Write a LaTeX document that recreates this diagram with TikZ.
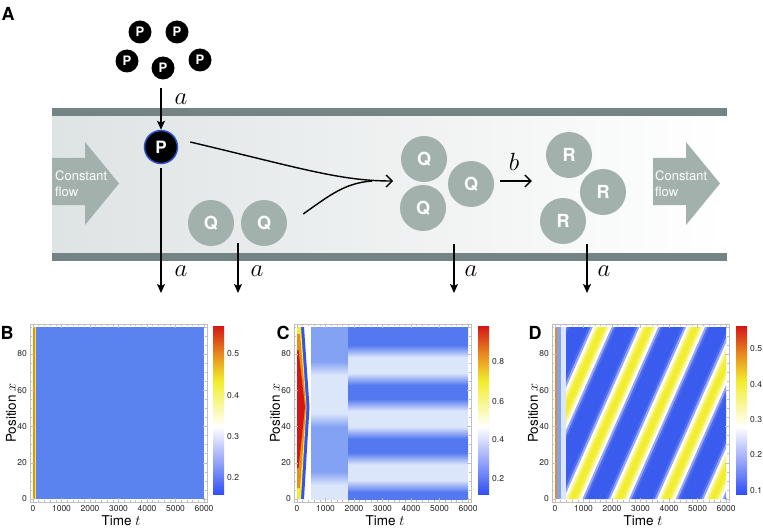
\documentclass[tikz,border=0pt]{standalone}
\usepackage{fontspec}
\setsansfont{TeX Gyre Heros}
\usetikzlibrary{arrows.meta, positioning, calc}

\definecolor{wallgray}{RGB}{116,132,132}
\definecolor{flowgray}{RGB}{163,177,173}
\definecolor{changray}{RGB}{222,227,227}
\definecolor{pblue}{RGB}{45,85,205}
\definecolor{cbblue}{RGB}{50,80,245}
\definecolor{cbyellow}{RGB}{242,238,45}
\definecolor{cborange}{RGB}{232,140,30}
\definecolor{cbred}{RGB}{212,22,22}
\definecolor{bgblue}{RGB}{91,131,240}
\definecolor{bandblue}{RGB}{84,120,240}
\definecolor{bandlight}{RGB}{220,230,251}
\definecolor{bandmid}{RGB}{132,162,244}
\definecolor{stripeblue}{RGB}{58,92,238}

% colour maps
\pgfdeclareverticalshading{cbar}{100bp}{color(0bp)=(cbblue); color(25bp)=(cbblue);
  color(45bp)=(white); color(58.5bp)=(cbyellow); color(66.5bp)=(cborange);
  color(75bp)=(cbred); color(100bp)=(cbred)}
\pgfdeclareverticalshading{cbands}{100bp}{color(0bp)=(bandblue); color(27bp)=(bandblue);
  color(30.5bp)=(bandlight); color(35bp)=(bandlight); color(38.5bp)=(bandblue);
  color(42.5bp)=(bandblue); color(46bp)=(bandlight); color(50.6bp)=(bandlight);
  color(54.1bp)=(bandblue); color(58.1bp)=(bandblue); color(61.6bp)=(bandlight);
  color(66.2bp)=(bandlight); color(69.7bp)=(bandblue); color(100bp)=(bandblue)}
\pgfdeclareverticalshading{cmid}{100bp}{color(0bp)=(bandlight); color(29bp)=(bandlight);
  color(33bp)=(bandmid); color(46bp)=(bandmid); color(50bp)=(bandlight);
  color(61bp)=(bandlight); color(65bp)=(bandmid); color(100bp)=(bandmid)}

\begin{document}
\begin{tikzpicture}[x=1pt, y=-1pt,
  pdot/.style={circle, fill=black, minimum size=23pt, inner sep=0pt, text=white,
    font=\sffamily\bfseries\fontsize{13}{13}\selectfont},
  pbig/.style={circle, fill=black, draw=pblue, line width=1.5pt, minimum size=33pt,
    inner sep=0pt, text=white, font=\sffamily\bfseries\fontsize{17}{17}\selectfont},
  mol/.style={circle, fill=flowgray, minimum size=46pt, inner sep=0pt, text=white,
    font=\sffamily\bfseries\fontsize{18}{18}\selectfont},
  arr/.style={-{Stealth[length=9pt, width=8pt, inset=2pt]}, line width=1.4pt},
  oarr/.style={-{Straight Barb[length=6pt, width=12pt]}, line width=1.4pt},
  rate/.style={font=\fontsize{24.88}{25}\selectfont, inner sep=0pt},
  flowtxt/.style={text=white, align=left, inner sep=0pt,
    font=\sffamily\fontsize{13}{16}\selectfont},
  plabel/.style={font=\sffamily\bfseries\fontsize{18}{18}\selectfont, inner sep=0pt},
  ticklbl/.style={font=\sffamily\fontsize{8.5}{9}\selectfont, inner sep=0pt, text=black!85},
  axlbl/.style={font=\sffamily\fontsize{13.5}{13.5}\selectfont, inner sep=0pt},
  framegray/.style={draw=black!25, line width=0.5pt}]
\useasboundingbox[fill=white] (0,0) rectangle (763,532);

\node[plabel] (labA) at (8,14) {A};

% channel
\shade[left color=changray, right color=white] (52,116) rectangle (727,253);
\fill[wallgray] (52,108) rectangle (727,116);
\fill[wallgray] (52,253) rectangle (727,261);

% constant flow arrows
\fill[flowgray] (52,158) -- (85,158) -- (85,142) -- (119,183.5) -- (85,225) -- (85,205) -- (52,205) -- cycle;
\fill[flowgray] (653,158) -- (686,158) -- (686,142) -- (720,183.5) -- (686,225) -- (686,205) -- (653,205) -- cycle;
\node[flowtxt, anchor=west] (flowin) at (55,184) {Constant\\flow};
\node[flowtxt, anchor=west] (flowout) at (655,184) {Constant\\flow};

% particles
\node[pdot] (p1) at (140,32) {P};
\node[pdot] (p2) at (177,32) {P};
\node[pdot] (p3) at (127,61) {P};
\node[pdot] (p4) at (163,68) {P};
\node[pdot] (p5) at (200,60) {P};
\node[pbig] (pin) at (161,147) {P};
\node[mol] (q1) at (211,223) {Q};
\node[mol] (q2) at (264,223) {Q};
\node[mol] (q3) at (424,159) {Q};
\node[mol] (q4) at (423,208) {Q};
\node[mol] (q5) at (471,184) {Q};
\node[mol] (r1) at (569,155) {R};
\node[mol] (r2) at (603,192) {R};
\node[mol] (r3) at (563,221) {R};

% reactions
\coordinate (qin) at (393,181);
\coordinate (qjoin) at (372,181);
\draw[arr, shorten <=8pt] (pin |- p4.south) -- (pin);
\draw[oarr] ([shift={(12,-5)}]pin.east) .. controls (300,168) and (340,181) .. (qin);
\draw[line width=1.4pt] ([shift={(16,-9)}]q2.east) .. controls (330,195) and (345,183) .. (qjoin);
\draw[oarr, shorten <=6pt, shorten >=14pt] (q5.east |- qin) -- (r1.west |- qin);

% outflow
\coordinate (pout) at (161,293);
\coordinate (qsrc) at (238,243);
\coordinate (qout) at (238,293);
\coordinate (qcsrc) at (454,244);
\coordinate (qcout) at (454,293);
\coordinate (rsrc) at (587,244);
\coordinate (rout) at (587,293);
\draw[arr, shorten <=4pt] (pin) -- (pout);
\draw[arr] (qsrc) -- (qout);
\draw[arr] (qcsrc) -- (qcout);
\draw[arr] (rsrc) -- (rout);

\node[rate] (ain) at (181,99) {$a$};
\node[rate] (aP) at (181,271) {$a$};
\node[rate] (aQ) at (257,271) {$a$};
\node[rate] (aQc) at (471,271) {$a$};
\node[rate] (aR) at (604,271) {$a$};
\node[rate] (rb) at (514,162) {$b$};

% panel B
\fill[bgblue] (33,327) rectangle (204,499);
\fill[cborange] (33,327) rectangle (34.5,499);
\fill[cbyellow] (34.5,327) rectangle (35.5,499);

% panel C
\fill[white] (297,327) rectangle (313,499);
\shade[shading=cmid] (311,327) rectangle (348,499);
\shade[shading=cbands] (348,327) rectangle (468,499);
\fill[cbblue] (300.5,327) -- (304,327) -- (309.5,407) -- (304,499) -- (300.5,499) -- (306,407) -- cycle;
\fill[cbyellow] (297,327) -- (301,327) -- (306.5,407) -- (301,499) -- (297,499) -- cycle;
\fill[cborange] (297,334) -- (300,334) -- (306,407) -- (300,488) -- (297,488) -- cycle;
\fill[cbred] (297,350) -- (298.5,350) -- (305,407) -- (298.5,468) -- (297,468) -- cycle;

% panel D
\fill[bandlight] (555,327) rectangle (726,499);
\fill[bandmid] (557,327) rectangle (561,499);
\fill[cborange] (555,327) rectangle (556.5,499);
\begin{scope}
  \clip (566,327) rectangle (726,499);
  \foreach \i in {-2,...,4}
    \foreach \j/\c in {0/stripeblue, 1/stripeblue, 2/stripeblue, 3/stripeblue,
        4/stripeblue!90!white, 5/stripeblue!55!white, 6/white,
        7/cbyellow!45!white, 8/cbyellow!85!white, 9/cbyellow, 10/cbyellow,
        11/cbyellow!85!white, 12/cbyellow!45!white, 13/white,
        14/stripeblue!55!white, 15/stripeblue!90!white, 16/stripeblue,
        17/stripeblue, 18/stripeblue, 19/stripeblue} {
      \pgfmathsetmacro{\u}{555 + 18 + 46.7*\i - 23.35 + 2.335*\j}
      \fill[\c] (\u,499) -- ({\u+2.8},499) -- ({\u+78.8},327) -- ({\u+76},327) -- cycle;
    }
\end{scope}

% frames, ticks and axis labels
\foreach \dx/\pl/\lx in {33/B/7, 297/C/283, 555/D/535} {
  \draw[framegray] ({\dx-3},324) rectangle ({\dx+174},502);
  \foreach \t in {0,200,...,6000}
    \draw[framegray] ({\dx+0.0285*\t},502) -- ++(0,-2) ({\dx+0.0285*\t},324) -- ++(0,2);
  \foreach \t in {0,1000,...,6000} {
    \draw[framegray] ({\dx+0.0285*\t},502) -- ++(0,-4) ({\dx+0.0285*\t},324) -- ++(0,4);
    \node[ticklbl] (tx\pl\t) at ({\dx+0.0285*\t},509) {\t};
  }
  \foreach \v in {0,5,...,95}
    \draw[framegray] ({\dx-3},{499-1.8125*\v}) -- ++(2,0) ({\dx+174},{499-1.8125*\v}) -- ++(-2,0);
  \foreach \v in {0,20,...,80} {
    \draw[framegray] ({\dx-3},{499-1.8125*\v}) -- ++(4,0) ({\dx+174},{499-1.8125*\v}) -- ++(-4,0);
    \node[ticklbl, anchor=east] (ty\pl\v) at ({\dx-6},{499-1.8125*\v}) {\v};
  }
  \node[axlbl] (time\pl) at ({\dx+88},521) {Time $t$};
  \node[axlbl, rotate=90] (pos\pl) at ({\dx-22},413) {Position $x$};
  \node[plabel] (lab\pl) at (\lx,333) {\pl};
}

% colour bars
\foreach \cx in {213,478,736}
  \shade[shading=cbar] (\cx,326) rectangle ({\cx+11},494);
\foreach \val/\y in {0.5/354, 0.4/395.5, 0.3/437, 0.2/478}
  \node[ticklbl, anchor=west] (cbB\val) at (227,\y) {\val};
\foreach \val/\y in {0.8/362, 0.6/402, 0.4/440, 0.2/479}
  \node[ticklbl, anchor=west] (cbC\val) at (492,\y) {\val};
\foreach \val/\y in {0.5/349, 0.4/385, 0.3/420, 0.2/455, 0.1/491}
  \node[ticklbl, anchor=west] (cbD\val) at (750,\y) {\val};
\end{tikzpicture}
\end{document}
